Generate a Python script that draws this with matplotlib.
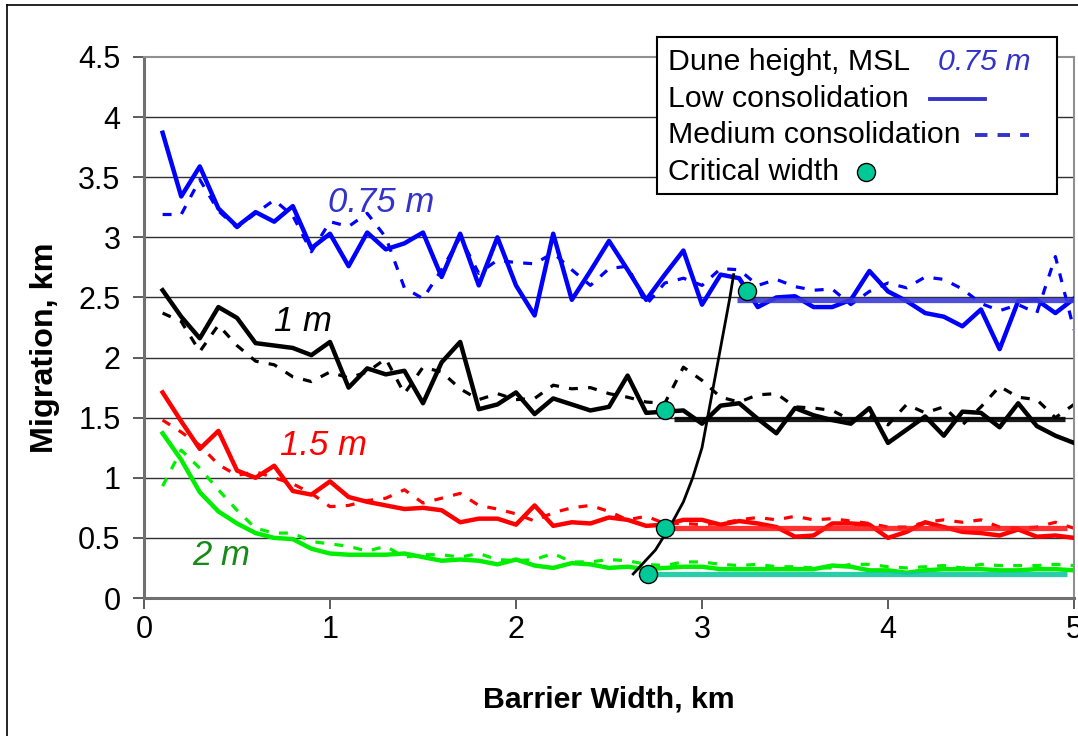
import matplotlib
matplotlib.use("Agg")
import matplotlib.pyplot as plt
from matplotlib.lines import Line2D
from matplotlib.patches import Rectangle

plt.rcParams['font.family'] = ['Liberation Sans', 'DejaVu Sans']

# ---------------- data -----------------
width_km = [0.1, 0.2, 0.3, 0.4, 0.5, 0.6, 0.7, 0.8, 0.9, 1.0,
            1.1, 1.2, 1.3, 1.4, 1.5, 1.6, 1.7, 1.8, 1.9, 2.0,
            2.1, 2.2, 2.3, 2.4, 2.5, 2.6, 2.7, 2.8, 2.9, 3.0,
            3.1, 3.2, 3.3, 3.4, 3.5, 3.6, 3.7, 3.8, 3.9, 4.0,
            4.1, 4.2, 4.3, 4.4, 4.5, 4.6, 4.7, 4.8, 4.9, 5.0]

dune_labels = ["0.75 m", "1 m", "1.5 m", "2 m"]

low_075 = [3.87, 3.34, 3.59, 3.24, 3.09, 3.21, 3.13, 3.26, 2.91, 3.03,
           2.76, 3.04, 2.90, 2.95, 3.04, 2.67, 3.03, 2.60, 3.00, 2.60,
           2.35, 3.03, 2.48, 2.72, 2.97, 2.73, 2.48, 2.69, 2.89, 2.44,
           2.69, 2.66, 2.42, 2.50, 2.51, 2.42, 2.42, 2.48, 2.72, 2.55,
           2.47, 2.37, 2.34, 2.26, 2.40, 2.07, 2.47, 2.48, 2.37, 2.49]
med_075 = [3.19, 3.19, 3.48, 3.22, 3.08, 3.20, 3.31, 3.18, 2.88, 3.13,
           3.09, 3.20, 3.00, 2.58, 2.49, 2.73, 3.00, 2.70, 2.81, 2.79,
           2.78, 2.87, 2.73, 2.60, 2.74, 2.76, 2.44, 2.62, 2.66, 2.60,
           2.74, 2.73, 2.60, 2.65, 2.59, 2.56, 2.57, 2.44, 2.55, 2.62,
           2.58, 2.67, 2.65, 2.57, 2.45, 2.39, 2.44, 2.37, 2.84, 2.23]

low_1 = [2.56, 2.34, 2.16, 2.42, 2.33, 2.12, 2.10, 2.08, 2.02, 2.13,
         1.75, 1.91, 1.86, 1.89, 1.62, 1.96, 2.13, 1.57, 1.61, 1.71,
         1.53, 1.66, 1.61, 1.56, 1.59, 1.85, 1.54, 1.55, 1.56, 1.45,
         1.60, 1.62, 1.49, 1.37, 1.58, 1.52, 1.48, 1.45, 1.58, 1.29,
         1.40, 1.51, 1.35, 1.55, 1.54, 1.42, 1.62, 1.43, 1.35, 1.29]
med_1 = [2.37, 2.30, 2.05, 2.27, 2.10, 1.97, 1.94, 1.84, 1.80, 1.88,
         1.83, 1.88, 1.99, 1.70, 1.92, 1.88, 1.74, 1.65, 1.70, 1.65,
         1.66, 1.77, 1.74, 1.75, 1.70, 1.67, 1.63, 1.62, 1.92, 1.81,
         1.67, 1.63, 1.69, 1.70, 1.59, 1.58, 1.56, 1.48, 1.52, 1.44,
         1.61, 1.54, 1.59, 1.44, 1.59, 1.76, 1.67, 1.65, 1.50, 1.61]

low_15 = [1.71, 1.47, 1.24, 1.39, 1.06, 1.00, 1.10, 0.89, 0.86, 0.97,
          0.84, 0.80, 0.77, 0.74, 0.75, 0.73, 0.63, 0.66, 0.66, 0.61,
          0.77, 0.60, 0.63, 0.62, 0.67, 0.65, 0.60, 0.61, 0.65, 0.65,
          0.61, 0.64, 0.62, 0.59, 0.51, 0.52, 0.62, 0.62, 0.61, 0.50,
          0.55, 0.63, 0.59, 0.55, 0.54, 0.52, 0.57, 0.51, 0.52, 0.50]
med_15 = [1.48, 1.38, 1.27, 1.11, 1.02, 1.05, 1.00, 0.95, 0.87, 0.76,
          0.77, 0.81, 0.83, 0.90, 0.79, 0.83, 0.87, 0.77, 0.74, 0.70,
          0.64, 0.71, 0.75, 0.77, 0.72, 0.65, 0.68, 0.62, 0.62, 0.61,
          0.62, 0.65, 0.67, 0.65, 0.68, 0.65, 0.66, 0.64, 0.62, 0.59,
          0.59, 0.63, 0.65, 0.63, 0.65, 0.59, 0.58, 0.59, 0.63, 0.58]

low_2 = [1.37, 1.15, 0.88, 0.72, 0.62, 0.54, 0.50, 0.49, 0.41, 0.37,
         0.36, 0.36, 0.36, 0.37, 0.34, 0.31, 0.32, 0.31, 0.28, 0.32,
         0.27, 0.25, 0.29, 0.28, 0.25, 0.26, 0.24, 0.25, 0.26, 0.26,
         0.24, 0.24, 0.24, 0.24, 0.24, 0.24, 0.27, 0.26, 0.23, 0.23,
         0.21, 0.23, 0.24, 0.24, 0.24, 0.23, 0.23, 0.24, 0.24, 0.23]
med_2 = [0.93, 1.23, 1.08, 0.90, 0.73, 0.58, 0.54, 0.54, 0.47, 0.45,
         0.43, 0.39, 0.43, 0.34, 0.36, 0.36, 0.34, 0.37, 0.32, 0.31,
         0.32, 0.37, 0.30, 0.30, 0.32, 0.31, 0.28, 0.27, 0.30, 0.30,
         0.28, 0.27, 0.28, 0.26, 0.26, 0.25, 0.25, 0.28, 0.28, 0.26,
         0.25, 0.26, 0.27, 0.25, 0.28, 0.27, 0.27, 0.27, 0.28, 0.27]

# critical widths and plateau levels, same order as dune_labels
crit_x = [3.24, 2.80, 2.80, 2.71]
crit_y = [2.55, 1.56, 0.58, 0.20]
plateau_y = [2.48, 1.49, 0.585, 0.20]
plateau_start = [3.19, 2.85, 2.80, 2.71]
plateau_end = [5.0, 4.95, 4.96, 4.96]

# trend line through the critical widths
trend_x = [2.63, 2.75, 2.83, 2.90, 2.95, 3.00, 3.03, 3.06, 3.09, 3.12, 3.15, 3.17]
trend_y = [0.20, 0.40, 0.60, 0.80, 1.00, 1.25, 1.50, 1.75, 2.00, 2.25, 2.50, 2.69]

low_series = [low_075, low_1, low_15, low_2]
med_series = [med_075, med_1, med_15, med_2]
line_colors = ["#0000ff", "#000000", "#ff0000", "#00ee00"]
plateau_colors = ["#3c3cd6", "#000000", "#ff1a1a", "#12c8a0"]
label_colors = ["#3333cc", "#000000", "#ff0000", "#188a18"]
label_pos = [(0.99, 3.29), (0.70, 2.30), (0.73, 1.27), (0.26, 0.35)]

# ---------------- plot -----------------
fig = plt.figure(figsize=(10.78, 7.36), dpi=100)
ax = fig.add_axes([144 / 1078, 138 / 736, 930 / 1078, 541 / 736])

for y in [0.5, 1, 1.5, 2, 2.5, 3, 3.5, 4]:
    ax.axhline(y, color="#303030", lw=1.0, zorder=1)

for med, col in zip(med_series, line_colors):
    ax.plot(width_km, med, color=col, lw=2.3, dashes=(2.8, 3.2), zorder=2)
for low, col in zip(low_series, line_colors):
    ax.plot(width_km, low, color=col, lw=3.2, zorder=3)

for y, x0, x1, col in zip(plateau_y, plateau_start, plateau_end, plateau_colors):
    ax.plot([x0, x1], [y, y], color=col, lw=3.8, alpha=0.9, zorder=4,
            solid_capstyle="butt")

ax.plot(trend_x, trend_y, color="black", lw=2.0, zorder=5)
ax.plot(crit_x, crit_y, "o", ms=13, mfc="#00c896", mec="black", mew=1.0,
        zorder=6, clip_on=False)

for lab, (x, y), col in zip(dune_labels, label_pos, label_colors):
    ax.text(x, y, lab, color=col, fontsize=25, style="italic",
            ha="left", va="center", zorder=7)

ax.set_xlim(0, 5)
ax.set_ylim(0, 4.5)
ax.set_xticks([0, 1, 2, 3, 4, 5])
ax.set_yticks([0, 0.5, 1, 1.5, 2, 2.5, 3, 3.5, 4, 4.5])
ax.set_yticklabels(["0", "0.5", "1", "1.5", "2", "2.5", "3", "3.5", "4", "4.5"])
ax.tick_params(axis="both", direction="out", length=8, width=1.2,
               color="#404040", labelsize=22)
ax.tick_params(axis="x", pad=4)
ax.tick_params(axis="y", pad=9)
for side in ["left", "bottom"]:
    ax.spines[side].set_color("#707070")
    ax.spines[side].set_linewidth(2.2)
for side in ["top", "right"]:
    ax.spines[side].set_color("#909090")
    ax.spines[side].set_linewidth(1.5)

ax.set_xlabel("Barrier Width, km", fontsize=21.8, fontweight="bold")
ax.set_ylabel("Migration, km", fontsize=23.3, fontweight="bold")
ax.xaxis.set_label_coords(0.5, -(700 - 598) / 541, transform=ax.transAxes)
ax.xaxis.label.set_va("center")
ax.yaxis.set_label_coords(-(144 - 45) / 930, (598 - 348) / 541,
                          transform=ax.transAxes)
ax.yaxis.label.set_va("center")

# legend box drawn by hand (labels left, symbols right)
ta = ax.transAxes
ax.add_patch(Rectangle((0.5516, 0.7468), 0.4301, 0.2902, transform=ta,
                       facecolor="white", edgecolor="black", lw=1.5,
                       zorder=10, clip_on=False))
rows_y = [0.9908, 0.9224, 0.8558, 0.7874]
row_text = ["Dune height, MSL", "Low consolidation", "Medium consolidation",
            "Critical width"]
for y, t in zip(rows_y, row_text):
    ax.text(0.5634, y, t, transform=ta, fontsize=21.8, ha="left", va="center",
            zorder=11, clip_on=False)
ax.text(0.8538, rows_y[0], dune_labels[0], transform=ta, fontsize=21.8,
        style="italic", color=label_colors[0], ha="left", va="center", zorder=11)
ax.add_line(Line2D([0.845, 0.9043], [rows_y[1]] * 2, transform=ta,
                   color="#3333cc", lw=2.8, zorder=11, clip_on=False))
ax.add_line(Line2D([0.8935, 0.9516], [rows_y[2]] * 2, transform=ta,
                   color="#3333cc", lw=2.8, dashes=(3.2, 2.6), zorder=11,
                   clip_on=False))
ax.add_line(Line2D([0.776], [rows_y[3]], transform=ta, marker="o", ms=13,
                   mfc="#00c896", mec="black", mew=1.0, zorder=11,
                   clip_on=False))

# outer frame of the chart (only left and top visible)
fig.add_artist(Line2D([7 / 1078, 7 / 1078], [0, 1 - 5 / 736],
                      transform=fig.transFigure, color="black", lw=1.2))
fig.add_artist(Line2D([7 / 1078, 1], [1 - 5 / 736, 1 - 5 / 736],
                      transform=fig.transFigure, color="black", lw=1.2))

fig.savefig("out.png", dpi=100)
